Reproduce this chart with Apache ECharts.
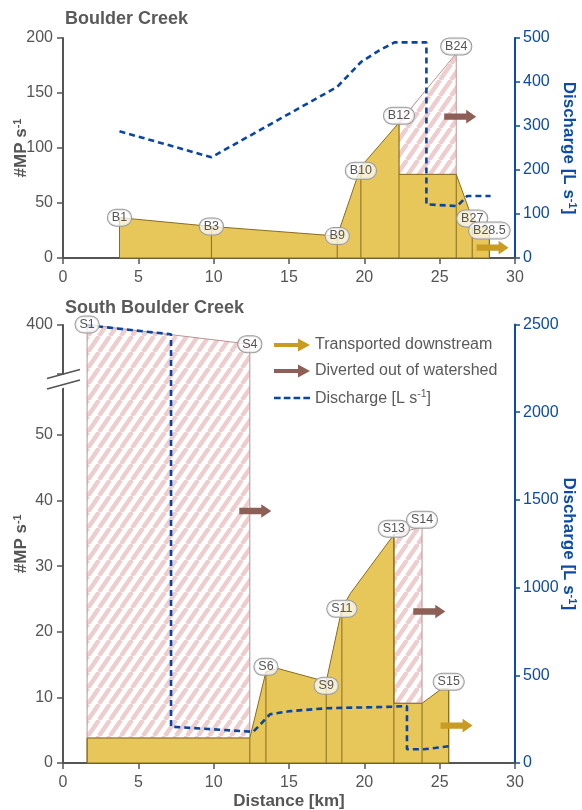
<!DOCTYPE html>
<html><head><meta charset="utf-8">
<script src="https://cdn.jsdelivr.net/npm/echarts@6/dist/echarts.min.js"></script>
<style>html,body{margin:0;padding:0;background:#fff}#c{width:582px;height:810px}</style>
</head><body><div id="c"></div><script>
// ---------- DATA : Boulder Creek ----------
const bcStations = ['B1','B3','B9','B10','B12','B24','B27','B28.5'];
const bcStationKm = [3.75, 9.85, 18.2, 19.77, 22.3, 26.1, 27.16, 28.3];
const bcStationMP = [36.7, 28.7, 20, 83, 123, 186, 36, 25];
const bcTransportedMP = [36.7, 28.7, 20, 83, 76, 76, 36, 25];
const bcProfileKm = [3.75, 3.75, 9.85, 18.2, 19.77, 22.3, 22.3, 26.1, 27.16, 28.3, 28.3];
const bcProfileMP = [0, 36.7, 28.7, 20, 83, 123, 76, 76, 36, 25, 0];
const bcDivertedKm = [22.3, 22.3, 26.1, 26.1];
const bcDivertedMP = [76, 123, 186, 76];
const bcDischargeKm = [3.75, 9.85, 18.2, 19.8, 21.0, 22.0, 24.12, 24.12, 26.16, 26.83, 28.38];
const bcDischarge = [288, 229, 389, 446, 472, 490, 490, 122, 118, 141, 141];
const bcArrowDiverted = [[25.3, 128.5]];
const bcArrowTransported = [[27.45, 9.4]];

// ---------- DATA : South Boulder Creek ----------
const sbStations = ['S1','S4','S6','S9','S11','S13','S14','S15'];
const sbStationKm = [1.6, 12.4, 13.47, 17.47, 18.51, 21.96, 23.83, 25.6];
const sbStationMP = [400, 397, 13.9, 12.4, 23.5, 34.8, 36.0, 11.3];
const sbTransportedMP = [3.8, 3.8, 13.9, 12.4, 23.5, 34.8, 9.1, 11.3];
const sbProfileKm = [1.6, 1.6, 12.4, 13.47, 14.26, 17.47, 18.51, 19.06, 21.96, 21.96, 23.83, 25.12, 25.6, 25.6];
const sbProfileMP = [0, 3.8, 3.8, 13.9, 14.4, 12.4, 23.5, 25.8, 34.8, 9.1, 9.1, 11.3, 11.3, 0];
const sbDiverted1Km = [1.6, 1.6, 12.4, 12.4];
const sbDiverted1MP = [3.8, 400, 397, 3.8];
const sbDiverted2Km = [21.96, 21.96, 23.83, 23.83];
const sbDiverted2MP = [9.1, 34.8, 36.0, 9.1];
const sbDischargeKm = [1.6, 7.17, 7.17, 12.63, 13.07, 13.74, 15.1, 17.47, 21.94, 22.83, 22.83, 23.94, 25.72];
const sbDischarge = [2496, 2444, 207, 178, 217, 278, 296, 312, 321, 325, 78, 78, 97];
const sbArrowDiverted = [[11.7, 38.4], [23.25, 23.1]];
const sbArrowTransported = [[25.06, 5.7]];

const xTicks = [0, 30, 5];

// ---------- STYLE ----------
const F = '"Liberation Sans", Arial, Helvetica, sans-serif';
const GRAY = '#555555', BLUE = '#0d4ba6', YEL = '#E7C65A', YEL_EDGE = '#8a6c1e';
const HATCH_EDGE = '#b99592', GOLD = '#C89B22', BROWN = '#8D5F56', QLINE = '#0a45a3';
const labelOffsets = {B10:[0,4], B12:[0,-7], B24:[0,-7], S6:[0,-5], S9:[0,4], S13:[0,-6], S14:[0,-7], S15:[0,-7]};

function hatchPattern(){
  const a = 11, b = 16, c = document.createElement('canvas');
  c.width = a; c.height = b;
  const g = c.getContext('2d');
  g.fillStyle = '#ffffff'; g.fillRect(0, 0, a, b);
  g.strokeStyle = '#EDCDCD'; g.lineWidth = 4.4;
  for (let k = -1; k <= 1; k++) {
    g.beginPath(); g.moveTo(k * a, b); g.lineTo(k * a + a, 0); g.stroke();
  }
  return {image: c, repeat: 'repeat'};
}
const HATCH = hatchPattern();

function zip(a, b){ return a.map((v, i) => [v, b[i]]); }

function polygonSeries(km, mp, xi, yi, fill, stroke, z){
  const data = zip(km, mp);
  return {type:'custom', xAxisIndex:xi, yAxisIndex:yi, z:z, silent:true, clip:false,
    data:data, encode:{x:0, y:1},
    renderItem:function(params, api){
      if (params.dataIndex !== 0) return null;
      return {type:'polygon', shape:{points:data.map(d => api.coord(d))},
        style:{fill:fill, stroke:stroke, lineWidth:1}};
    }};
}
function dividerSeries(km, mp, xi, yi){
  return {type:'custom', xAxisIndex:xi, yAxisIndex:yi, z:3, silent:true, clip:false,
    data:zip(km, mp), encode:{x:0, y:1},
    renderItem:function(params, api){
      const p0 = api.coord([api.value(0), 0]), p1 = api.coord([api.value(0), api.value(1)]);
      return {type:'line', shape:{x1:p0[0], y1:p0[1], x2:p1[0], y2:p1[1]},
        style:{stroke:YEL_EDGE, lineWidth:1}};
    }};
}
function arrowSeries(name, pts, xi, yi, color){
  return {type:'custom', name:name, xAxisIndex:xi, yAxisIndex:yi, z:5, silent:true, clip:false,
    itemStyle:{color:color}, data:pts, encode:{x:0, y:1},
    renderItem:function(params, api){
      const p = api.coord([api.value(0), api.value(1)]), x = p[0], y = p[1];
      const L = 32, H = 22, t = 3.2, w = 6.8;
      return {type:'polygon', shape:{points:[[x,y-t],[x+H,y-t],[x+H,y-w],[x+L,y],[x+H,y+w],[x+H,y+t],[x,y+t]]},
        style:{fill:color}};
    }};
}
function labelSeries(km, mp, names, xi, yi){
  return {type:'custom', xAxisIndex:xi, yAxisIndex:yi, z:8, silent:true, clip:false,
    data:zip(km, mp), encode:{x:0, y:1},
    renderItem:function(params, api){
      const nm = names[params.dataIndex];
      const p = api.coord([api.value(0), api.value(1)]);
      const off = labelOffsets[nm] || [0, 0];
      return {type:'text', x:p[0] + off[0], y:p[1] + off[1], z2:10,
        style:{text:nm, align:'center', verticalAlign:'middle', fontSize:12.5,
          fontFamily:'"Liberation Sans Narrow", "Liberation Sans", Arial, sans-serif', fill:'#555',
          backgroundColor:'rgba(255,255,255,0.72)', borderColor:'#9a9a9a', borderWidth:1,
          borderRadius:9, padding:[2,4,1,4]}};
    }};
}
function dischargeSeries(km, q, xi, yi){
  return {type:'line', name:'Discharge', xAxisIndex:xi, yAxisIndex:yi, z:4, silent:true,
    data:zip(km, q), symbol:'none', showSymbol:false, itemStyle:{color:QLINE},
    lineStyle:{color:QLINE, width:2.6, type:[6,4]}};
}

const supRich = (color, size) => ({
  b:{fontSize:size, fontWeight:'bold', color:color, fontFamily:F, verticalAlign:'bottom'},
  s:{fontSize:11, fontWeight:'bold', color:color, fontFamily:F, verticalAlign:'bottom', padding:[0,0,7,0]}
});

function xAxisCfg(gi, withName){
  const c = {type:'value', gridIndex:gi, min:xTicks[0], max:xTicks[1], interval:xTicks[2],
    axisLine:{show:true, onZero:false, lineStyle:{color:GRAY, width:2}},
    axisTick:{show:true, length:6, lineStyle:{color:GRAY, width:1.5}},
    axisLabel:{fontSize:16, color:GRAY, fontFamily:F, margin:12},
    splitLine:{show:false}};
  if (withName) Object.assign(c, {name:'Distance [km]', nameLocation:'middle', nameGap:30, nameMoveOverlap:false,
    nameTextStyle:{fontSize:17, fontWeight:'bold', color:GRAY, fontFamily:F}});
  return c;
}
function leftAxis(gi, min, max, iv, extra){
  return Object.assign({type:'value', gridIndex:gi, position:'left', min:min, max:max, interval:iv,
    name:'{b|#MP s}{s|-1}', nameLocation:'middle', nameRotate:90, nameGap:33, nameMoveOverlap:false,
    nameTextStyle:{rich:supRich(GRAY, 17)},
    axisLine:{show:true, lineStyle:{color:GRAY, width:2}},
    axisTick:{show:true, length:6, lineStyle:{color:GRAY, width:1.5}},
    axisLabel:{fontSize:16, color:GRAY, fontFamily:F, margin:10},
    splitLine:{show:false}}, extra || {});
}
function rightAxis(gi, max, iv){
  return {type:'value', gridIndex:gi, position:'right', min:0, max:max, interval:iv,
    name:'{b|Discharge [L s}{s|-1}{b|]}', nameLocation:'middle', nameRotate:-90, nameGap:45, nameMoveOverlap:false,
    nameTextStyle:{rich:supRich(BLUE, 17)},
    axisLine:{show:true, lineStyle:{color:BLUE, width:2}},
    axisTick:{show:true, length:5, lineStyle:{color:BLUE, width:1.5}},
    axisLabel:{fontSize:16, color:BLUE, fontFamily:F, margin:8, formatter:function(v){ return String(v); }},
    splitLine:{show:false}};
}

const arrowIcon = 'path://M0,4.5H24V0L36,6.5L24,13V8.5H0Z';
const dashIcon = 'path://M0,0L0.01,0L0,0.01Z M-1,5.2H6V7.8H-1Z M9.3,5.2H16.3V7.8H9.3Z M19.6,5.2H26.6V7.8H19.6Z M29.9,5.2H36.9V7.8H29.9Z M36,13L35.99,13L36,12.99Z';

const option = {
  animation:false,
  backgroundColor:'#ffffff',
  title:[
    {text:'Boulder Creek', left:65, top:10, padding:0, textStyle:{fontSize:18, fontWeight:'bold', color:'#5a5a5a', fontFamily:F}},
    {text:'South Boulder Creek', left:65, top:299, padding:0, textStyle:{fontSize:18, fontWeight:'bold', color:'#5a5a5a', fontFamily:F}}
  ],
  legend:{orient:'vertical', left:269, top:332, itemWidth:36, itemHeight:13, itemGap:10, selectedMode:false,
    textStyle:{fontSize:16, color:'#5a5a5a', fontFamily:F,
      rich:{n:{fontSize:16, color:'#5a5a5a', fontFamily:F, verticalAlign:'bottom'},
            sup:{fontSize:10.5, color:'#5a5a5a', fontFamily:F, verticalAlign:'bottom', padding:[0,0,7,0]}}},
    formatter:function(n){ return n === 'Discharge' ? '{n|Discharge [L s}{sup|-1}{n|]}' : n; },
    data:[
      {name:'Transported downstream', icon:arrowIcon, itemStyle:{color:GOLD}},
      {name:'Diverted out of watershed', icon:arrowIcon, itemStyle:{color:BROWN}},
      {name:'Discharge', icon:dashIcon, itemStyle:{color:QLINE}}
    ]},
  grid:[
    {left:63, right:67, top:38, height:220, outerBoundsMode:'none', containLabel:false},
    {left:63, right:67, top:324.5, height:438.5, outerBoundsMode:'none', containLabel:false}
  ],
  xAxis:[xAxisCfg(0, false), xAxisCfg(1, true)],
  yAxis:[
    leftAxis(0, 0, 200, 50),
    rightAxis(0, 500, 100),
    leftAxis(1, 0, 400, 10, {
      breaks:[{start:57.8, end:392.5, gap:'2.3%'}],
      breakArea:{show:true, expandOnClick:false, zigzagAmplitude:0,
        itemStyle:{color:'rgba(0,0,0,0)', borderColor:'rgba(0,0,0,0)', borderWidth:0, opacity:0}},
      axisLabel:{fontSize:16, color:GRAY, fontFamily:F, margin:10,
        formatter:function(v){ return (Math.abs(v % 10) < 1e-6) ? String(v) : ''; }}
    }),
    rightAxis(1, 2500, 500)
  ],
  series:[
    polygonSeries(bcDivertedKm, bcDivertedMP, 0, 0, HATCH, HATCH_EDGE, 1),
    polygonSeries(bcProfileKm, bcProfileMP, 0, 0, YEL, YEL_EDGE, 2),
    dividerSeries(bcStationKm, bcTransportedMP, 0, 0),
    dischargeSeries(bcDischargeKm, bcDischarge, 0, 1),
    arrowSeries('Diverted out of watershed', bcArrowDiverted, 0, 0, BROWN),
    arrowSeries('Transported downstream', bcArrowTransported, 0, 0, GOLD),
    labelSeries(bcStationKm, bcStationMP, bcStations, 0, 0),

    polygonSeries(sbDiverted1Km, sbDiverted1MP, 1, 2, HATCH, HATCH_EDGE, 1),
    polygonSeries(sbDiverted2Km, sbDiverted2MP, 1, 2, HATCH, HATCH_EDGE, 1),
    polygonSeries(sbProfileKm, sbProfileMP, 1, 2, YEL, YEL_EDGE, 2),
    dividerSeries(sbStationKm, sbTransportedMP, 1, 2),
    dischargeSeries(sbDischargeKm, sbDischarge, 1, 3),
    arrowSeries('Diverted out of watershed', sbArrowDiverted, 1, 2, BROWN),
    arrowSeries('Transported downstream', sbArrowTransported, 1, 2, GOLD),
    labelSeries(sbStationKm, sbStationMP, sbStations, 1, 2)
  ],
  graphic:[
    {type:'polygon', z:100, shape:{points:[[56,381],[70,375],[70,385],[56,391]]}, style:{fill:'#fff'}},
    {type:'line', z:101, shape:{x1:47, y1:378.5, x2:80, y2:369.5}, style:{stroke:GRAY, lineWidth:1.8}},
    {type:'line', z:101, shape:{x1:47, y1:389, x2:80, y2:380}, style:{stroke:GRAY, lineWidth:1.8}}
  ]
};
const chart = echarts.init(document.getElementById('c'), null, {renderer:'canvas'});
chart.setOption(option);
</script></body></html>
